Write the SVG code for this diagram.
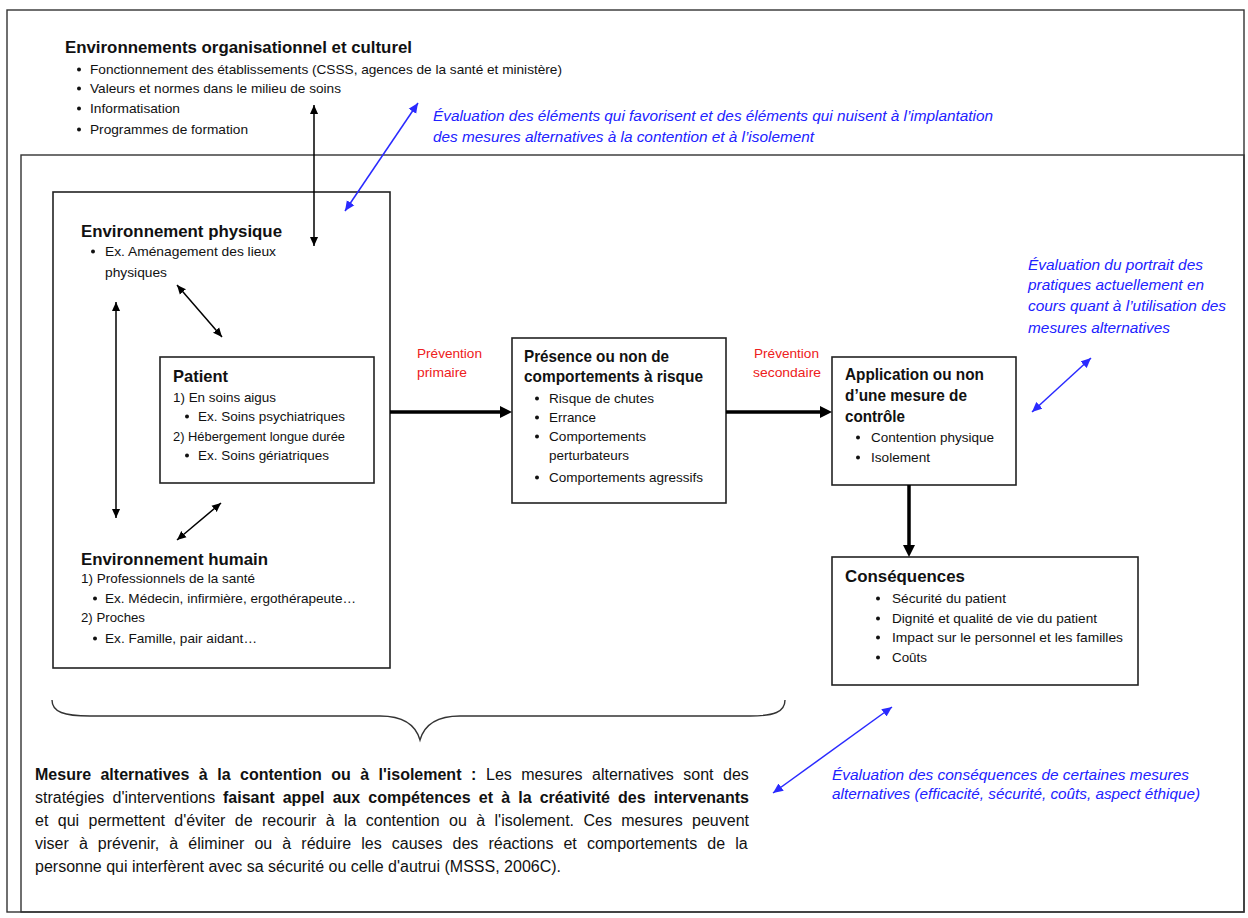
<svg xmlns="http://www.w3.org/2000/svg" width="1248" height="918" viewBox="0 0 1248 918">
<style>
  text { font-family: "Liberation Sans", Arial, sans-serif; fill: #111; }
  .b { font-size: 13px; }
  .h { font-size: 16.5px; font-weight: bold; }
  .blue { font-size: 14px; font-style: italic; fill: #2121ff; }
  .red { font-size: 13px; fill: #ee2020; }
  .p { font-size: 16px; }
  .pb { font-size: 16px; font-weight: bold; }
  .box { fill: #fff; stroke: #222; stroke-width: 1.6; }
  .frame { fill: none; stroke: #333; stroke-width: 1.4; }
  .dot { fill: #111; }
  .thin { stroke: #000; stroke-width: 1.5; fill: none; marker-start: url(#ak); marker-end: url(#ak); }
  .bl { stroke: #2a2aff; stroke-width: 1.5; fill: none; marker-start: url(#ab); marker-end: url(#ab); }
  .thick { stroke: #000; stroke-width: 3.5; fill: none; marker-end: url(#akb); }
</style>
<defs>
  <marker id="ak" viewBox="0 0 10 10" refX="10" refY="5" markerWidth="9" markerHeight="9" markerUnits="userSpaceOnUse" orient="auto-start-reverse">
    <path d="M0,0.5 L10,5 L0,9.5 z" fill="#000"/>
  </marker>
  <marker id="ab" viewBox="0 0 10 10" refX="10" refY="5" markerWidth="10" markerHeight="10" markerUnits="userSpaceOnUse" orient="auto-start-reverse">
    <path d="M0,0.5 L10,5 L0,9.5 z" fill="#2a2aff"/>
  </marker>
  <marker id="akb" viewBox="0 0 10 10" refX="5" refY="5" markerWidth="12" markerHeight="12" markerUnits="userSpaceOnUse" orient="auto">
    <path d="M0,0 L10,5 L0,10 z" fill="#000"/>
  </marker>
</defs>
<rect width="1248" height="918" fill="#fff"/>
<g id="frame">
  <rect class="frame" x="7" y="10" width="1237" height="902"/>
  <rect class="frame" x="21" y="155" width="1223" height="757"/>
</g>
<g id="org-env">
  <text class="h" x="65" y="53" textLength="347" lengthAdjust="spacingAndGlyphs">Environnements organisationnel et culturel</text>
  <circle class="dot" cx="79" cy="69.5" r="2"/>
  <text class="b" x="90" y="74" textLength="472" lengthAdjust="spacingAndGlyphs">Fonctionnement des établissements (CSSS, agences de la santé et ministère)</text>
  <circle class="dot" cx="79" cy="88.5" r="2"/>
  <text class="b" x="90" y="93" textLength="251" lengthAdjust="spacingAndGlyphs">Valeurs et normes dans le milieu de soins</text>
  <circle class="dot" cx="79" cy="108.5" r="2"/>
  <text class="b" x="90" y="113" textLength="90" lengthAdjust="spacingAndGlyphs">Informatisation</text>
  <circle class="dot" cx="79" cy="129.5" r="2"/>
  <text class="b" x="90" y="134" textLength="158" lengthAdjust="spacingAndGlyphs">Programmes de formation</text>
</g>
<g id="eval-implantation">
  <text class="blue" x="433" y="121" textLength="560" lengthAdjust="spacingAndGlyphs">Évaluation des éléments qui favorisent et des éléments qui nuisent à l’implantation</text>
  <text class="blue" x="433" y="142" textLength="381" lengthAdjust="spacingAndGlyphs">des mesures alternatives à la contention et à l’isolement</text>
</g>
<g id="environnement">
  <rect class="box" x="53" y="192" width="337" height="476"/>
  <text class="h" x="81" y="237" textLength="201" lengthAdjust="spacingAndGlyphs">Environnement physique</text>
  <circle class="dot" cx="93" cy="251.5" r="2"/>
  <text class="b" x="105" y="256" textLength="171" lengthAdjust="spacingAndGlyphs">Ex. Aménagement des lieux</text>
  <text class="b" x="105" y="277" textLength="62" lengthAdjust="spacingAndGlyphs">physiques</text>
  <text class="h" x="81" y="565" textLength="187" lengthAdjust="spacingAndGlyphs">Environnement humain</text>
  <text class="b" x="81" y="583" textLength="174" lengthAdjust="spacingAndGlyphs">1) Professionnels de la santé</text>
  <circle class="dot" cx="95" cy="598.5" r="2"/>
  <text class="b" x="105" y="603" textLength="251" lengthAdjust="spacingAndGlyphs">Ex. Médecin, infirmière, ergothérapeute…</text>
  <text class="b" x="81" y="622" textLength="64" lengthAdjust="spacingAndGlyphs">2) Proches</text>
  <circle class="dot" cx="95" cy="638.5" r="2"/>
  <text class="b" x="105" y="643" textLength="152" lengthAdjust="spacingAndGlyphs">Ex. Famille, pair aidant…</text>
</g>
<g id="patient">
  <rect class="box" x="160" y="357" width="214" height="126"/>
  <text class="h" x="173" y="382" textLength="55" lengthAdjust="spacingAndGlyphs">Patient</text>
  <text class="b" x="173" y="402" textLength="103" lengthAdjust="spacingAndGlyphs">1) En soins aigus</text>
  <circle class="dot" cx="187" cy="416.5" r="2"/>
  <text class="b" x="198" y="421" textLength="147" lengthAdjust="spacingAndGlyphs">Ex. Soins psychiatriques</text>
  <text class="b" x="173" y="441" textLength="172" lengthAdjust="spacingAndGlyphs">2) Hébergement longue durée</text>
  <circle class="dot" cx="187" cy="455.5" r="2"/>
  <text class="b" x="198" y="460" textLength="131" lengthAdjust="spacingAndGlyphs">Ex. Soins gériatriques</text>
</g>
<g id="prevention-primaire">
  <text class="red" x="417" y="358" textLength="65" lengthAdjust="spacingAndGlyphs">Prévention</text>
  <text class="red" x="417" y="377" textLength="50" lengthAdjust="spacingAndGlyphs">primaire</text>
</g>
<g id="comportements">
  <rect class="box" x="512" y="338" width="214" height="165"/>
  <text class="h" x="524" y="362" textLength="145" lengthAdjust="spacingAndGlyphs">Présence ou non de</text>
  <text class="h" x="524" y="382" textLength="179" lengthAdjust="spacingAndGlyphs">comportements à risque</text>
  <circle class="dot" cx="537" cy="398.5" r="2"/>
  <text class="b" x="549" y="403" textLength="105" lengthAdjust="spacingAndGlyphs">Risque de chutes</text>
  <circle class="dot" cx="537" cy="417.5" r="2"/>
  <text class="b" x="549" y="422" textLength="47" lengthAdjust="spacingAndGlyphs">Errance</text>
  <circle class="dot" cx="537" cy="436.5" r="2"/>
  <text class="b" x="549" y="441" textLength="97" lengthAdjust="spacingAndGlyphs">Comportements</text>
  <text class="b" x="549" y="460" textLength="80" lengthAdjust="spacingAndGlyphs">perturbateurs</text>
  <circle class="dot" cx="537" cy="477.5" r="2"/>
  <text class="b" x="549" y="482" textLength="154" lengthAdjust="spacingAndGlyphs">Comportements agressifs</text>
</g>
<g id="prevention-secondaire">
  <text class="red" x="754" y="358" textLength="65" lengthAdjust="spacingAndGlyphs">Prévention</text>
  <text class="red" x="753" y="377" textLength="68" lengthAdjust="spacingAndGlyphs">secondaire</text>
</g>
<g id="application">
  <rect class="box" x="832" y="357" width="184" height="128"/>
  <text class="h" x="845" y="380" textLength="139" lengthAdjust="spacingAndGlyphs">Application ou non</text>
  <text class="h" x="845" y="401" textLength="122" lengthAdjust="spacingAndGlyphs">d’une mesure de</text>
  <text class="h" x="845" y="422" textLength="60" lengthAdjust="spacingAndGlyphs">contrôle</text>
  <circle class="dot" cx="858" cy="437.5" r="2"/>
  <text class="b" x="871" y="442" textLength="123" lengthAdjust="spacingAndGlyphs">Contention physique</text>
  <circle class="dot" cx="858" cy="457.5" r="2"/>
  <text class="b" x="871" y="462" textLength="59" lengthAdjust="spacingAndGlyphs">Isolement</text>
</g>
<g id="eval-portrait">
  <text class="blue" x="1028" y="270" textLength="175" lengthAdjust="spacingAndGlyphs">Évaluation du portrait des</text>
  <text class="blue" x="1028" y="290" textLength="176" lengthAdjust="spacingAndGlyphs">pratiques actuellement en</text>
  <text class="blue" x="1028" y="311" textLength="198" lengthAdjust="spacingAndGlyphs">cours quant à l’utilisation des</text>
  <text class="blue" x="1028" y="333" textLength="142" lengthAdjust="spacingAndGlyphs">mesures alternatives</text>
</g>
<g id="consequences">
  <rect class="box" x="832" y="557" width="306" height="128"/>
  <text class="h" x="845" y="582" textLength="120" lengthAdjust="spacingAndGlyphs">Conséquences</text>
  <circle class="dot" cx="878" cy="598.5" r="2"/>
  <text class="b" x="892" y="603" textLength="114" lengthAdjust="spacingAndGlyphs">Sécurité du patient</text>
  <circle class="dot" cx="878" cy="618.5" r="2"/>
  <text class="b" x="892" y="623" textLength="205" lengthAdjust="spacingAndGlyphs">Dignité et qualité de vie du patient</text>
  <circle class="dot" cx="878" cy="637.5" r="2"/>
  <text class="b" x="892" y="642" textLength="231" lengthAdjust="spacingAndGlyphs">Impact sur le personnel et  les familles</text>
  <circle class="dot" cx="878" cy="657.5" r="2"/>
  <text class="b" x="892" y="662" textLength="35" lengthAdjust="spacingAndGlyphs">Coûts</text>
</g>
<g id="eval-consequences">
  <text class="blue" x="832" y="780" textLength="357" lengthAdjust="spacingAndGlyphs">Évaluation  des conséquences de certaines mesures</text>
  <text class="blue" x="832" y="799" textLength="368" lengthAdjust="spacingAndGlyphs">alternatives (efficacité, sécurité, coûts, aspect éthique)</text>
</g>
<g id="brace">
  <path d="M52,700 C52,712 64,716 90,716 L380,716 C404,716 416,726 420,740 C424,726 436,716 460,716 L750,716 C774,716 785,712 785,700" fill="none" stroke="#333" stroke-width="1.4"/>
</g>
<g id="definition">
  <text class="pb" x="35" y="780" word-spacing="5">Mesure alternatives à la contention ou à l'isolement :</text>
  <text class="p" x="486" y="780" word-spacing="5">Les mesures alternatives sont des</text>
  <text class="p" x="35" y="803" word-spacing="3.7">stratégies d'interventions</text>
  <text class="pb" x="223" y="803" word-spacing="3.7">faisant appel aux compétences et à la créativité des intervenants</text>
  <text class="p" x="35" y="826" word-spacing="4.95">et qui permettent d'éviter de recourir à la contention ou à l'isolement. Ces mesures peuvent</text>
  <text class="p" x="35" y="849" word-spacing="5.65">viser à prévenir, à éliminer ou à réduire les causes des réactions et comportements de la</text>
  <text class="p" x="35" y="872">personne qui interfèrent avec sa sécurité ou celle d'autrui (MSSS, 2006C).</text>
</g>
<g id="connectors">
  <line class="thin" x1="314" y1="105" x2="314" y2="246"/>
  <line class="thin" x1="177" y1="285" x2="222" y2="337"/>
  <line class="thin" x1="116" y1="302" x2="116" y2="518"/>
  <line class="thin" x1="221" y1="503" x2="177" y2="540"/>
  <line class="bl" x1="418" y1="103" x2="345" y2="211"/>
  <line class="bl" x1="1091" y1="358" x2="1032" y2="412"/>
  <line class="bl" x1="892" y1="707" x2="773" y2="793"/>
  <line class="thick" x1="390" y1="412" x2="506" y2="412"/>
  <line class="thick" x1="726" y1="412" x2="826" y2="412"/>
  <line class="thick" x1="909" y1="485" x2="909" y2="551"/>
</g>
</svg>
